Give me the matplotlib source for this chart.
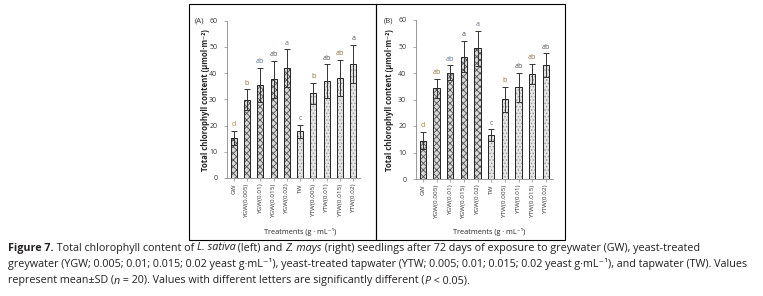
import numpy as np
import matplotlib
matplotlib.use("Agg")
import matplotlib.pyplot as plt
from matplotlib.patches import Rectangle

# data
treatments = ["GW", "YGW(0.005)", "YGW(0.01)", "YGW(0.015)", "YGW(0.02)",
              "TW", "YTW(0.005)", "YTW(0.01)", "YTW(0.015)", "YTW(0.02)"]

sativa_mean = [15.3, 29.8, 35.5, 37.7, 41.9, 17.8, 32.4, 37.0, 38.1, 43.4]
sativa_sd = [2.6, 4.0, 6.5, 7.0, 7.2, 2.5, 4.0, 6.4, 7.0, 7.3]
sativa_letters = ["d", "b", "ab", "ab", "a", "c", "b", "ab", "ab", "a"]

mays_mean = [14.5, 34.2, 40.1, 46.2, 49.3, 16.5, 30.1, 34.6, 39.6, 42.9]
mays_sd = [3.2, 3.5, 2.8, 6.0, 6.6, 2.3, 4.8, 5.5, 3.8, 4.5]
mays_letters = ["d", "ab", "ab", "a", "a", "c", "b", "ab", "ab", "ab"]

letter_colors = ["#b07a3a", "#8a6a3a", "#5a6f8a", "#4d4d4d", "#5a6f8a",
                 "#6b6b6b", "#8a6a3a", "#4d4d4d", "#8a6a3a", "#4d4d4d"]

plt.rcParams['font.family'] = ['Open Sans', 'DejaVu Sans']
plt.rcParams['hatch.linewidth'] = 0.6

W, H = 763, 296
fig = plt.figure(figsize=(W / 100, H / 100), dpi=100)


def fbox(x0, y0, x1, y1):
    # pixel box (top-left origin) -> figure fraction [l, b, w, h]
    return [x0 / W, 1 - y1 / H, (x1 - x0) / W, (y1 - y0) / H]


def panel(rect, means, sds, letters, tag, ylab_x, tag_x):
    ax = fig.add_axes(fbox(*rect))
    x = np.arange(len(means))
    for i in x:
        if i < 5:
            fc, hc, hp = "#d8d8d8", "#505050", "xxxxx"
        else:
            fc, hc, hp = "#e4e4e4", "#9a9a9a", "....."
        ax.bar(i, means[i], width=0.45, color=fc, edgecolor=hc, hatch=hp,
               linewidth=0, zorder=2)
        ax.bar(i, means[i], width=0.45, fill=False, edgecolor="#222222",
               linewidth=0.7, zorder=3)
    ax.errorbar(x, means, yerr=sds, fmt="none", ecolor="#333333",
                elinewidth=0.7, capsize=2, capthick=0.7, zorder=4)
    for i in x:
        ax.text(i, means[i] + sds[i] + 1.0, letters[i], ha="center",
                va="bottom", fontsize=5, color=letter_colors[i])
    ax.set_xlim(-0.5, len(means) - 0.5)
    ax.set_ylim(0, 60)
    ax.set_yticks(range(0, 61, 10))
    ax.set_xticks(x)
    ax.set_xticklabels(treatments, rotation=90, fontsize=4.6, color="#333333")
    ax.tick_params(axis="y", labelsize=5, colors="#888888", length=2,
                   width=0.5, labelcolor="#333333", pad=5)
    ax.tick_params(axis="x", length=2, width=0.5, colors="#888888",
                   labelcolor="#333333", pad=2)
    for s in ["top", "right"]:
        ax.spines[s].set_visible(False)
    for s in ["left", "bottom"]:
        ax.spines[s].set_color("#888888")
        ax.spines[s].set_linewidth(0.6)
    fig.text(ylab_x / W, 1 - 100 / H,
             "Total chlorophyll content (\u00b5mol\u00b7m\u207b\u00b2)",
             rotation=90, ha="center", va="center", fontsize=5.6,
             fontweight="bold", color="#222222")
    fig.text(tag_x / W, 1 - 20.5 / H, tag, ha="left", va="center",
             fontsize=5.5, color="#333333")
    return ax


panel((227, 20.7, 360, 178), sativa_mean, sativa_sd, sativa_letters,
      "(A)", 205, 195)
panel((416, 20, 552.7, 179), mays_mean, mays_sd, mays_letters,
      "(B)", 390, 384)

fig.text(300 / W, 1 - 232.5 / H, "Treatments (g \u00b7 mL\u207b\u00b9)",
         ha="center", va="center", fontsize=5.2, color="#222222")
fig.text(489 / W, 1 - 232.5 / H, "Treatments (g \u00b7 mL\u207b\u00b9)",
         ha="center", va="center", fontsize=5.2, color="#222222")

# panel frames
for x0, x1 in [(188.5, 376), (376, 565)]:
    fig.patches.append(Rectangle((x0 / W, 1 - 240 / H), (x1 - x0) / W,
                                 236 / H, transform=fig.transFigure,
                                 fill=False, edgecolor="black", linewidth=0.8))

# caption, drawn piece by piece to mix bold / italic
cap_lines = [
    [("Figure 7.", "bold"), (" Total chlorophyll content of ", "normal"),
     ("L. sativa", "italic"), (" (left) and ", "normal"), ("Z. mays", "italic"),
     (" (right) seedlings after 72 days of exposure to greywater (GW), yeast-treated", "normal")],
    [("greywater (YGW; 0.005; 0.01; 0.015; 0.02 yeast g\u00b7mL\u207b\u00b9), yeast-treated tapwater "
      "(YTW; 0.005; 0.01; 0.015; 0.02 yeast g\u00b7mL\u207b\u00b9), and tapwater (TW). Values", "normal")],
    [("represent mean\u00b1SD (", "normal"), ("n", "italic"), (" = 20). Values with different letters "
      "are significantly different (", "normal"), ("P", "italic"), (" < 0.05).", "normal")],
]
cap_y = [248, 264.5, 281]
cap_color = "#231f20"
cap_family = ['Liberation Sans Narrow', 'Open Sans', 'DejaVu Sans']
renderer = fig.canvas.get_renderer()


def piece_width(txt, sty, size):
    kw = dict(fontsize=size, family=cap_family)
    if sty == "bold":
        kw["fontweight"] = "bold"
    if sty == "italic":
        kw["fontstyle"] = "italic"
    t = fig.text(0, 0, txt.replace(" ", "\u00a0"), **kw)
    w = t.get_window_extent(renderer).width
    t.remove()
    return w, kw


def draw_line(parts, y, size):
    xpx = 8.0
    for txt, sty in parts:
        w, kw = piece_width(txt, sty, size)
        fig.text(xpx / W, 1 - y / H, txt.replace(" ", "\u00a0"),
                 color=cap_color, ha="left", va="center", **kw)
        xpx += w


base = 7.0
widest = max(sum(piece_width(t, s, base)[0] for t, s in parts)
             for parts in cap_lines)
fs = base * 746.0 / widest
for parts, y in zip(cap_lines, cap_y):
    draw_line(parts, y, fs)

fig.savefig("out.png", dpi=100)
